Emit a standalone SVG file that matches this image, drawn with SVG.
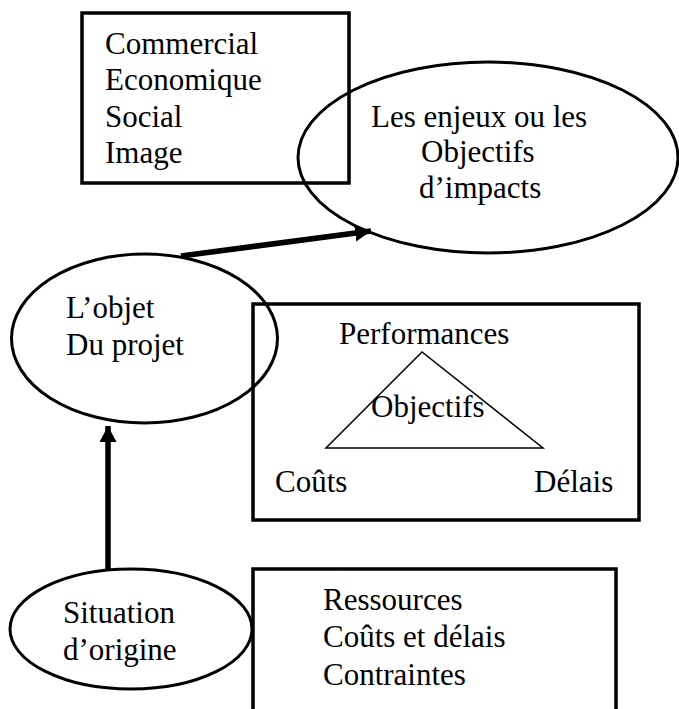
<svg xmlns="http://www.w3.org/2000/svg" width="679" height="709" viewBox="0 0 679 709">
<style>
.box{fill:none;stroke:#000;stroke-width:3.5}
.ell{fill:none;stroke:#000;stroke-width:3}
.t{font-family:"Liberation Serif","Times New Roman",serif;font-size:31px;fill:#000}
.conn{stroke:#000;stroke-width:5.5;fill:none}
</style>
<defs>
<marker id="ah" markerUnits="userSpaceOnUse" markerWidth="20" markerHeight="20" refX="16" refY="8.5" orient="auto">
<path d="M0,0 L16,8.5 L0,17 Z" fill="#000"/>
</marker>
</defs>
<rect width="679" height="709" fill="#fff"/>
<g id="impact-list">
<rect class="box" x="82" y="13" width="267" height="170"/>
<text class="t" x="105" y="54">Commercial</text>
<text class="t" x="105" y="90">Economique</text>
<text class="t" x="105" y="127">Social</text>
<text class="t" x="105" y="163">Image</text>
</g>
<g id="enjeux">
<ellipse class="ell" cx="488" cy="157.5" rx="190" ry="95.5"/>
<text class="t" x="371" y="127">Les enjeux ou les</text>
<text class="t" x="421" y="162">Objectifs</text>
<text class="t" x="419" y="198">d’impacts</text>
</g>
<g id="objet">
<ellipse class="ell" cx="144.5" cy="338.5" rx="133" ry="84.5"/>
<text class="t" x="66" y="318">L’objet</text>
<text class="t" x="66" y="355">Du projet</text>
</g>
<g id="triangle-box">
<rect class="box" x="253" y="304" width="386" height="216"/>
<polygon points="422,352 326,448 543,448" fill="none" stroke="#000" stroke-width="1.5"/>
<text class="t" x="339" y="344">Performances</text>
<text class="t" x="371" y="417">Objectifs</text>
<text class="t" x="275" y="492">Coûts</text>
<text class="t" x="534" y="492">Délais</text>
</g>
<g id="situation">
<ellipse class="ell" cx="131" cy="629" rx="121" ry="60"/>
<text class="t" x="63" y="623">Situation</text>
<text class="t" x="63" y="660">d’origine</text>
</g>
<g id="resources">
<path class="box" d="M253,712 V569 H616 V712"/>
<text class="t" x="323" y="610">Ressources</text>
<text class="t" x="323" y="647">Coûts et délais</text>
<text class="t" x="323" y="685">Contraintes</text>
</g>
<g id="connectors">
<line class="conn" x1="181" y1="256" x2="371" y2="231" marker-end="url(#ah)"/>
<line class="conn" x1="108" y1="569" x2="108" y2="426" marker-end="url(#ah)"/>
</g>
</svg>
